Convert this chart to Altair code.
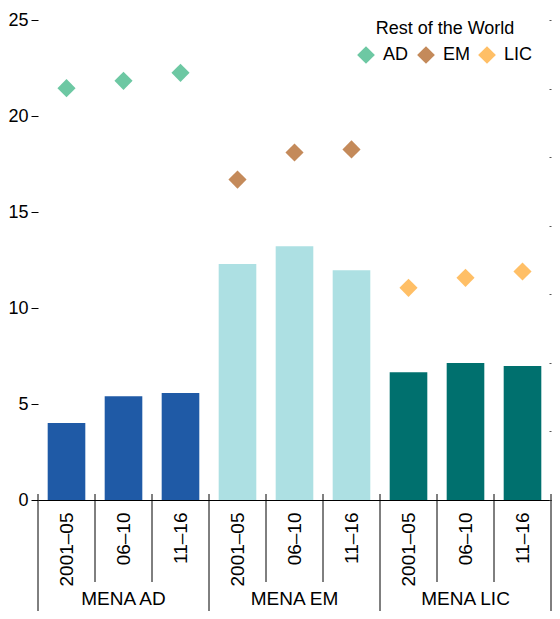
import altair as alt
import pandas as pd

# ---- data ----
groups = ["MENA AD", "MENA EM", "MENA LIC"]
periods = ["2001–05", "06–10", "11–16"]
mena_ad = [4.01, 5.41, 5.57]
mena_em = [12.29, 13.22, 11.97]
mena_lic = [6.66, 7.13, 6.98]
row_labels = ["AD", "EM", "LIC"]
row_ad = [21.45, 21.83, 22.25]
row_em = [16.69, 18.10, 18.26]
row_lic = [11.05, 11.57, 11.90]
y_ticks = [0, 5, 10, 15, 20, 25]
right_ticks = [0, 5, 10, 15, 20, 25, 30, 35]

bar_colors = ["#1F5AA6", "#ADE0E3", "#00706E"]
diamond_colors = ["#6DC8A3", "#C48A5A", "#FFBF66"]

FONT = "Liberation Sans, Arial, sans-serif"
FS = 18
FSX = 19

# ---- tables ----
keys = [f"{g}|{p}" for g in groups for p in periods]
mena_vals = [mena_ad, mena_em, mena_lic]
row_vals = [row_ad, row_em, row_lic]

bars_df = pd.DataFrame([
    {"key": f"{g}|{p}", "group": g, "period": p, "value": mena_vals[i][j]}
    for i, g in enumerate(groups) for j, p in enumerate(periods)
])
pts_df = pd.DataFrame([
    {"key": f"{g}|{p}", "region": row_labels[i], "value": row_vals[i][j]}
    for i, g in enumerate(groups) for j, p in enumerate(periods)
])
short_df = pd.DataFrame([{"key": f"{g}|{p}"} for g in groups for p in periods[1:]])
long_df = pd.DataFrame([{"key": f"{g}|{periods[0]}"} for g in groups])
end_df = pd.DataFrame([{"key": keys[-1]}])
label_df = pd.DataFrame([{"key": f"{g}|{periods[1]}", "group": g} for g in groups])
right_df = pd.DataFrame({"r": [right_ticks[0], right_ticks[-1]]})

x_scale = alt.Scale(domain=keys, paddingInner=0, paddingOuter=0)
x_axis = alt.Axis(
    title=None, ticks=False, domain=True, domainColor="#000000", domainWidth=1,
    labelExpr="split(datum.value, '|')[1]", labelAngle=270, labelAlign="right",
    labelBaseline="middle", labelPadding=12, labelFontSize=FSX, labelColor="#000000",
    labelFont=FONT,
)
y_scale = alt.Scale(domain=[0, 25], nice=False, zero=True)
y_axis = alt.Axis(
    title=None, values=y_ticks, domain=False, grid=False, tickSize=7,
    tickColor="#000000", tickWidth=1, labelPadding=3, labelFontSize=FS,
    labelColor="#000000", labelFont=FONT,
)

bars = alt.Chart(bars_df).mark_bar(width=alt.RelativeBandSize(0.66)).encode(
    x=alt.X("key:N", scale=x_scale, axis=x_axis, title=None),
    y=alt.Y("value:Q", scale=y_scale, axis=y_axis, title=None),
    color=alt.Color("group:N", scale=alt.Scale(domain=groups, range=bar_colors), legend=None),
)

pts = alt.Chart(pts_df).mark_point(shape="diamond", filled=True, size=330, opacity=1).encode(
    x=alt.X("key:N", scale=x_scale, axis=x_axis, title=None),
    y=alt.Y("value:Q", scale=y_scale, axis=y_axis, title=None),
    color=alt.Color(
        "region:N",
        scale=alt.Scale(domain=row_labels, range=diamond_colors),
        legend=alt.Legend(
            title="Rest of the World", orient="none", legendX=319, legendY=0,
            direction="horizontal", titleAnchor="middle", titleAlign="center",
            titleFontSize=FS, titleFontWeight="normal", titleColor="#000000",
            titleFont=FONT, titlePadding=8,
            labelFontSize=FS, labelColor="#000000", labelFont=FONT, labelOffset=8,
            symbolType="diamond", symbolSize=315, symbolStrokeWidth=0,
            symbolOpacity=1, columnPadding=8,
        ),
    ),
)

sep_short = alt.Chart(short_df).mark_rule(color="#000000", strokeWidth=1).encode(
    x=alt.X("key:N", scale=x_scale, axis=x_axis, title=None, bandPosition=0),
    y=alt.value(474), y2=alt.value(562),
)
sep_long = alt.Chart(long_df).mark_rule(color="#000000", strokeWidth=1).encode(
    x=alt.X("key:N", scale=x_scale, axis=x_axis, title=None, bandPosition=0),
    y=alt.value(474), y2=alt.value(600),
)
sep_end = alt.Chart(end_df).mark_rule(color="#000000", strokeWidth=1).encode(
    x=alt.X("key:N", scale=x_scale, axis=x_axis, title=None, bandPosition=1),
    y=alt.value(474), y2=alt.value(600),
)
group_text = alt.Chart(label_df).mark_text(
    fontSize=FSX, font=FONT, color="#000000", baseline="alphabetic", align="center"
).encode(
    x=alt.X("key:N", scale=x_scale, axis=x_axis, title=None),
    y=alt.value(585),
    text="group:N",
)

main = alt.layer(bars, pts, sep_short, sep_long, sep_end, group_text).resolve_scale(color="independent")

right = alt.Chart(right_df).mark_point(opacity=0).encode(
    y=alt.Y("r:Q", scale=alt.Scale(domain=[right_ticks[0], right_ticks[-1]], nice=False),
            axis=alt.Axis(orient="right", values=right_ticks, labels=False, domain=False,
                          grid=False, tickSize=2, offset=-2, tickColor="#555555", title=None),
            title=None),
)

chart = alt.layer(main, right).resolve_scale(y="independent").properties(
    width=513, height=480,
    autosize=alt.AutoSizeParams(type="none"),
    padding={"left": 30, "top": 12, "right": 1, "bottom": 111},
).configure(font=FONT, background="#ffffff").configure_view(strokeWidth=0)

chart.save("out.html", embed_options={"renderer": "svg", "actions": False})
